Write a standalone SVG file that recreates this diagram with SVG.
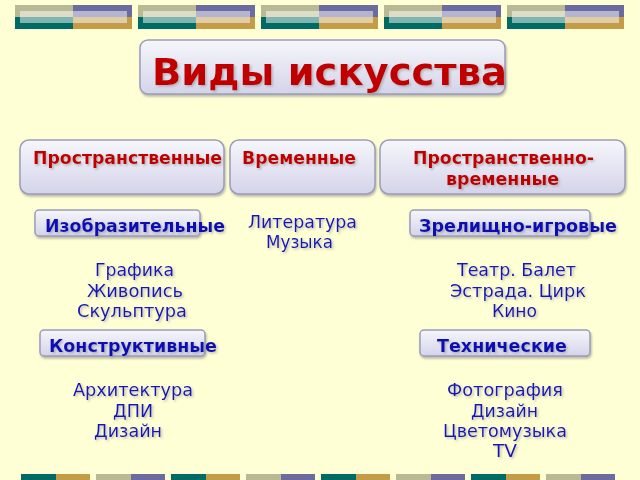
<svg xmlns="http://www.w3.org/2000/svg" width="640" height="480" viewBox="0 0 640 480">
<defs>
<linearGradient id="boxg" x1="0" y1="0" x2="0" y2="1">
<stop offset="0" stop-color="#f6f6fb"/>
<stop offset="1" stop-color="#d4d4ea"/>
</linearGradient>
<filter id="bsh" x="-10%" y="-20%" width="120%" height="150%">
<feDropShadow dx="1" dy="2" stdDeviation="1" flood-color="#777" flood-opacity="0.5"/>
</filter>
<filter id="tsh" x="-5%" y="-20%" width="115%" height="150%">
<feDropShadow dx="1.5" dy="1.5" stdDeviation="0.8" flood-color="#888" flood-opacity="0.55"/>
</filter>
<g id="topblk">
<rect x="0" y="0" width="58" height="12" fill="#b9b993"/>
<rect x="58" y="0" width="59" height="12" fill="#6b6ba0"/>
<rect x="0" y="12" width="58" height="12" fill="#006b64"/>
<rect x="58" y="12" width="59" height="12" fill="#c49c48"/>
<rect x="5" y="6" width="107" height="12" fill="#ffffff" fill-opacity="0.5"/>
</g>
<g id="botA">
<rect x="0" y="0" width="35" height="6" fill="#006b64"/>
<rect x="35" y="0" width="34" height="6" fill="#c49c48"/>
</g>
<g id="botB">
<rect x="0" y="0" width="35" height="6" fill="#b9b993"/>
<rect x="35" y="0" width="34" height="6" fill="#6b6ba0"/>
</g>
</defs>
<style>
.box{fill:url(#boxg);stroke:#9c9cbc;stroke-width:1.5;filter:url(#bsh)}
.hd{font-family:"DejaVu Sans",Verdana,sans-serif;font-weight:bold;fill:#c00000;filter:url(#tsh)}
.sub{font-family:"DejaVu Sans",Verdana,sans-serif;font-weight:bold;font-size:17px;fill:#1010b4;filter:url(#tsh)}
.it{font-family:"DejaVu Sans",Verdana,sans-serif;font-size:17px;fill:#1818b8;text-anchor:middle;filter:url(#tsh)}
</style>
<rect x="0" y="0" width="640" height="480" fill="#ffffd5"/>
<g id="decor">
<use href="#topblk" x="15" y="5"/>
<use href="#topblk" x="138" y="5"/>
<use href="#topblk" x="261" y="5"/>
<use href="#topblk" x="384" y="5"/>
<use href="#topblk" x="507" y="5"/>
<use href="#botA" x="21" y="474"/>
<use href="#botB" x="96" y="474"/>
<use href="#botA" x="171" y="474"/>
<use href="#botB" x="246" y="474"/>
<use href="#botA" x="321" y="474"/>
<use href="#botB" x="396" y="474"/>
<use href="#botA" x="471" y="474"/>
<use href="#botB" x="546" y="474"/>
</g>
<g id="connectors"></g>
<g id="title">
<rect class="box" x="140" y="40" width="365" height="54" rx="8"/>
<text class="hd" x="152" y="85" font-size="37" textLength="355" lengthAdjust="spacingAndGlyphs">Виды искусства</text>
</g>
<g id="spatial">
<rect class="box" x="20" y="140" width="204" height="54" rx="9"/>
<text class="hd" x="33" y="164" font-size="17.5" textLength="189" lengthAdjust="spacingAndGlyphs">Пространственные</text>
</g>
<g id="temporal">
<rect class="box" x="230" y="140" width="145" height="54" rx="9"/>
<text class="hd" x="242" y="164" font-size="17.5" textLength="114" lengthAdjust="spacingAndGlyphs">Временные</text>
</g>
<g id="spatiotemporal">
<rect class="box" x="380" y="140" width="245" height="54" rx="9"/>
<text class="hd" x="413" y="164" font-size="17.5" textLength="181" lengthAdjust="spacingAndGlyphs">Пространственно-</text>
<text class="hd" x="446" y="185" font-size="17.5" textLength="113" lengthAdjust="spacingAndGlyphs">временные</text>
</g>
<g id="fine">
<rect class="box" x="35" y="210" width="165" height="26" rx="4"/>
<text class="sub" x="45" y="232" textLength="180" lengthAdjust="spacingAndGlyphs">Изобразительные</text>
</g>
<g id="fine-list">
<text class="it" x="134.5" y="276" textLength="79" lengthAdjust="spacingAndGlyphs">Графика</text>
<text class="it" x="135" y="297" textLength="96" lengthAdjust="spacingAndGlyphs">Живопись</text>
<text class="it" x="132" y="317" textLength="110" lengthAdjust="spacingAndGlyphs">Скульптура</text>
</g>
<g id="temporal-list">
<text class="it" x="302.5" y="228" textLength="109" lengthAdjust="spacingAndGlyphs">Литература</text>
<text class="it" x="299.5" y="248" textLength="67" lengthAdjust="spacingAndGlyphs">Музыка</text>
</g>
<g id="spectacle">
<rect class="box" x="410" y="210" width="180" height="26" rx="4"/>
<text class="sub" x="419" y="232" textLength="198" lengthAdjust="spacingAndGlyphs">Зрелищно-игровые</text>
</g>
<g id="spectacle-list">
<text class="it" x="516.5" y="276" textLength="119" lengthAdjust="spacingAndGlyphs">Театр. Балет</text>
<text class="it" x="518" y="297" textLength="136" lengthAdjust="spacingAndGlyphs">Эстрада. Цирк</text>
<text class="it" x="514.5" y="317" textLength="45" lengthAdjust="spacingAndGlyphs">Кино</text>
</g>
<g id="constructive">
<rect class="box" x="40" y="330" width="165" height="26" rx="4"/>
<text class="sub" x="49" y="352" textLength="168" lengthAdjust="spacingAndGlyphs">Конструктивные</text>
</g>
<g id="constructive-list">
<text class="it" x="133" y="396" textLength="120" lengthAdjust="spacingAndGlyphs">Архитектура</text>
<text class="it" x="133" y="417" textLength="40" lengthAdjust="spacingAndGlyphs">ДПИ</text>
<text class="it" x="128" y="437" textLength="68" lengthAdjust="spacingAndGlyphs">Дизайн</text>
</g>
<g id="technical">
<rect class="box" x="420" y="330" width="170" height="26" rx="4"/>
<text class="sub" x="437" y="352" textLength="130" lengthAdjust="spacingAndGlyphs">Технические</text>
</g>
<g id="technical-list">
<text class="it" x="505" y="396" textLength="116" lengthAdjust="spacingAndGlyphs">Фотография</text>
<text class="it" x="504.5" y="417" textLength="67" lengthAdjust="spacingAndGlyphs">Дизайн</text>
<text class="it" x="505" y="437" textLength="124" lengthAdjust="spacingAndGlyphs">Цветомузыка</text>
<text class="it" x="505" y="457" textLength="24" lengthAdjust="spacingAndGlyphs">TV</text>
</g>
</svg>
